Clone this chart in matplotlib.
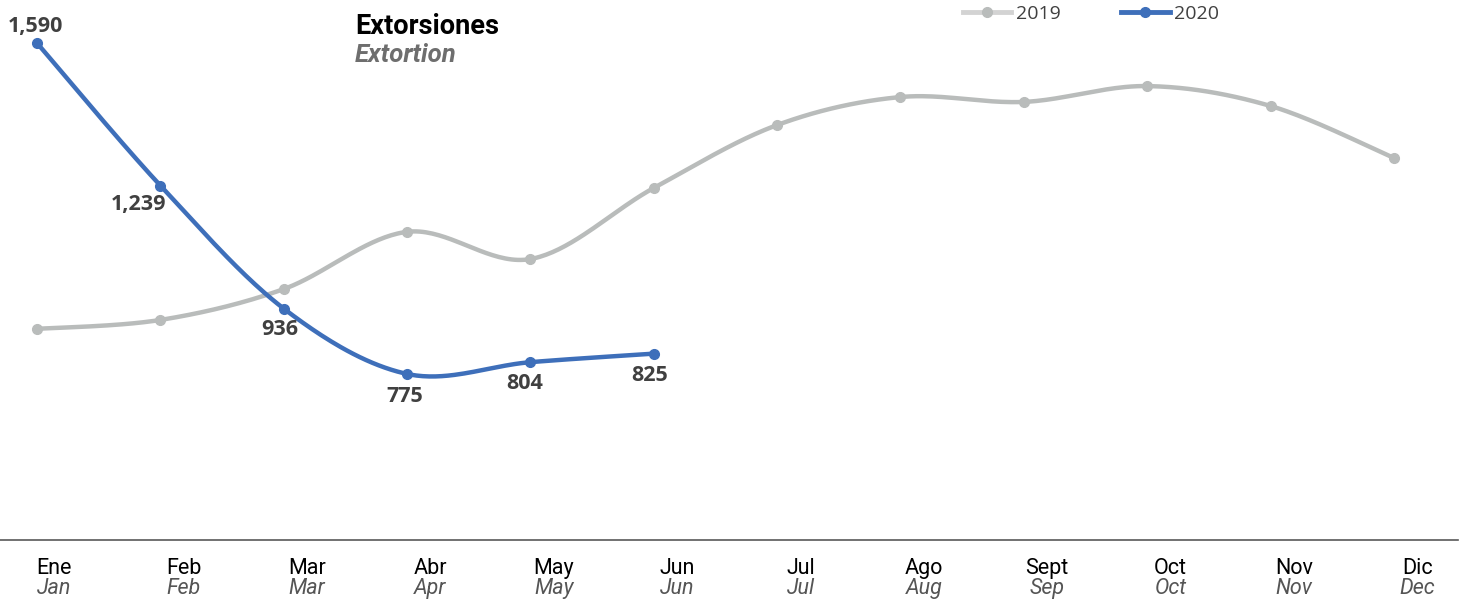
import numpy as np
import matplotlib.pyplot as plt
from matplotlib.lines import Line2D

meses_es = ["Ene", "Feb", "Mar", "Abr", "May", "Jun", "Jul", "Ago", "Sept", "Oct", "Nov", "Dic"]
meses_en = ["Jan", "Feb", "Mar", "Apr", "May", "Jun", "Jul", "Aug", "Sep", "Oct", "Nov", "Dec"]
ext_2019 = [886, 908, 984, 1125, 1058, 1233, 1388, 1457, 1445, 1484, 1435, 1307]
ext_2020 = [1590, 1239, 936, 775, 804, 825]

GRAY = "#B9BCBB"
BLUE = "#3E6FBA"


def smooth(xs, ys, n=40):
    # excel-like smoothed line: catmull-rom as cubic bezier segments
    p = np.column_stack([xs, ys]).astype(float)
    p_ext = np.vstack([p[0], p, p[-1]])
    out = []
    for i in range(len(p) - 1):
        p0, p1, p2, p3 = p_ext[i], p_ext[i + 1], p_ext[i + 2], p_ext[i + 3]
        c1 = p1 + (p2 - p0) / 6
        c2 = p2 - (p3 - p1) / 6
        t = np.linspace(0, 1, n)[:, None]
        seg = ((1 - t) ** 3) * p1 + 3 * ((1 - t) ** 2) * t * c1 + 3 * (1 - t) * t ** 2 * c2 + t ** 3 * p2
        out.append(seg)
    out = np.vstack(out)
    return out[:, 0], out[:, 1]


fig = plt.figure(figsize=(14.62, 6.01), dpi=100)
ax = fig.add_axes([0, 61 / 601, 1458 / 1462, 540 / 601])

x19 = np.arange(len(ext_2019))
x20 = np.arange(len(ext_2020))

sx, sy = smooth(x19, ext_2019)
ax.plot(sx, sy, color=GRAY, lw=3.2, solid_capstyle="round", zorder=2)
ax.plot(x19, ext_2019, "o", color=GRAY, ms=7, zorder=3)

sx, sy = smooth(x20, ext_2020)
ax.plot(sx, sy, color=BLUE, lw=3.2, solid_capstyle="round", zorder=4)
ax.plot(x20, ext_2020, "o", color=BLUE, ms=7, zorder=5)

# data labels for 2020
offsets = [(-2, 17), (-22, -19), (-4, -21), (-2, -23), (-6, -21), (-4, -22)]
for xi, v, (dx, dy) in zip(x20, ext_2020, offsets):
    ax.annotate(f"{v:,}", (xi, v), xytext=(dx * 0.72, dy * 0.72), textcoords="offset points",
                ha="center", va="center", fontsize=15.5, fontweight="bold",
                family="Open Sans", color="#404040", zorder=6)

ax.set_xlim(-0.3, 11.52)
ax.set_ylim(366, 1696)

ax.set_xticks(x19 + 0.19)
ax.set_xticklabels(["" for _ in meses_es])
ax.tick_params(axis="x", length=0)
ax.set_yticks([])
for i, (es, en) in enumerate(zip(meses_es, meses_en)):
    xl = i + (0.14 if i == 0 else 0.19)
    ax.text(xl, -0.053, es, transform=ax.get_xaxis_transform(), ha="center", va="center",
            fontsize=15.5, family="Roboto", color="black")
    ax.text(xl, -0.09, en, transform=ax.get_xaxis_transform(), ha="center", va="center",
            fontsize=15.5, family="Roboto", style="italic", color="#555555")

for s in ["top", "right", "left"]:
    ax.spines[s].set_visible(False)
ax.spines["bottom"].set_color("#595959")
ax.spines["bottom"].set_linewidth(1.2)

fig.text(355 / 1462, 1 - 27 / 601, "Extorsiones", family="Roboto", fontweight="bold",
         fontsize=19.5, va="center", ha="left", color="black")
fig.text(355 / 1462, 1 - 55 / 601, "Extortion", family="Roboto", fontweight="bold",
         style="italic", fontsize=18.5, va="center", ha="left", color="#6E6E6E")

handles = [
    Line2D([], [], color="#D3D3D3", lw=3.5, marker="o", ms=7, mfc="#B9BCBB", mec="#B9BCBB"),
    Line2D([], [], color=BLUE, lw=3.5, marker="o", ms=7),
]
fig.legend(handles, ["2019", "2020"], loc="center left", bbox_to_anchor=(945 / 1462, 1 - 14 / 601),
           ncol=2, frameon=False, handlelength=2.5, handletextpad=0.25, columnspacing=3.1,
           prop={"family": "Open Sans", "size": 14}, labelcolor="#404040")

plt.savefig("out.png", dpi=100)
